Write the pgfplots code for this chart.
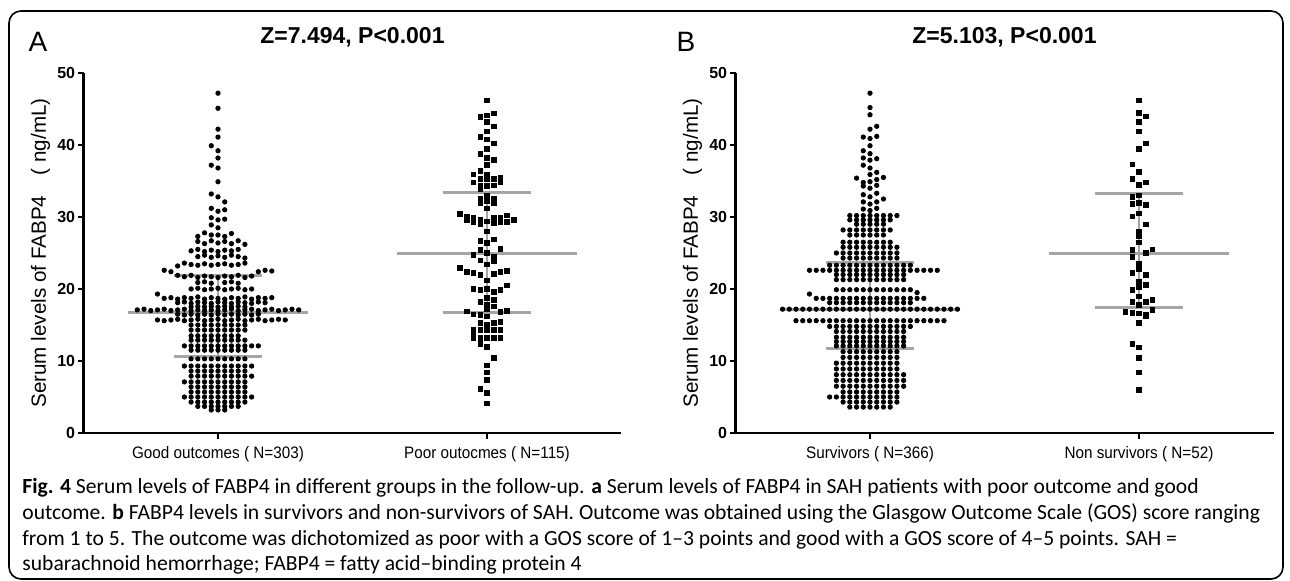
\documentclass[border=0pt]{standalone}
\usepackage{pgfplots}
\pgfplotsset{compat=1.18}
\usepackage{fontspec}
\setmainfont{Liberation Sans}
\newfontfamily\cf[FakeStretch=0.92]{Liberation Sans}
\newfontfamily\capf{Carlito}
\definecolor{iqr}{RGB}{165,165,165}
\pgfplotsset{
  dotax/.style={
    scale only axis, width=269pt, height=180pt,
    xmin=-20, xmax=60, ymin=0, ymax=50,
    axis x line=bottom, axis y line=left,
    axis line style={-, line width=1.1pt, black},
    xtick={0,40}, ytick={0,10,20,30,40,50},
    tick align=outside, major tick length=3pt,
    tick style={line width=1pt, black},
    /pgf/number format/assume math mode=true,
    yticklabel style={font=\bfseries\fontsize{8}{9}\selectfont, inner sep=1pt},
    xticklabel style={font=\cf\fontsize{8.3}{9}\selectfont},
    every axis y label/.style={at={(axis description cs:-0.08,0.5)}, rotate=90, anchor=center,
      font=\fontsize{10.3}{12}\selectfont},
    ylabel={Serum levels of FABP4\quad( ng/mL)},
    clip=false,
  },
  circ/.style={only marks, mark=*, mark size=1.1pt, black},
  sq/.style={only marks, mark=square*, mark size=1.15pt, black},
  med/.style={iqr, line width=1.5pt},
}
\begin{document}
\begin{tikzpicture}[x=0.5pt,y=0.5pt]
\useasboundingbox (0,0) rectangle (1290,580);
\draw[line width=0.8pt, rounded corners=6pt] (9,1) rectangle (1283,569);
% panel letters and titles
\node[font=\fontsize{14}{16}\selectfont] at (38,538) {A};
\node[font=\fontsize{14}{16}\selectfont] at (686,538) {B};
\node[font=\bfseries\fontsize{11.5}{13}\selectfont] at (352.5,543) {Z=7.494, P<0.001};
\node[font=\bfseries\fontsize{11.5}{13}\selectfont] at (1004.5,543) {Z=5.103, P<0.001};
% caption
\begin{scope}[every node/.style={anchor=base west, inner sep=0pt, font=\capf\fontsize{10.8}{12}\selectfont}]
\node at (22,87) {\textbf{Fig. 4} Serum levels of FABP4 in different groups in the follow-up. \textbf{a} Serum levels of FABP4 in SAH patients with poor outcome and good};
\node at (22,61) {outcome. \textbf{b} FABP4 levels in survivors and non-survivors of SAH. Outcome was obtained using the Glasgow Outcome Scale (GOS) score ranging};
\node at (22,35) {from 1 to 5. The outcome was dichotomized as poor with a GOS score of 1–3 points and good with a GOS score of 4–5 points. SAH =};
\node at (22,10) {subarachnoid hemorrhage; FABP4 = fatty acid–binding protein 4};
\end{scope}

\begin{axis}[dotax, at={(41.75pt,73.5pt)}, anchor=south west,
  xticklabels={Good outcomes ( N=303), Poor outocmes ( N=115)}]
% Good outcomes
\addplot[circ] coordinates {
(0,47.2)(0,45.1)(0,42.2)(0,41.1)(-1,39.9)(0,39.2)(0,38.2)(-1,37.2)(0,36.8)(0,34.9)
(-1,33.2)(0,32.8)(1,32.1)(-1,31.2)(0,30.8)(1,31.0)(-1,29.9)(0,29.6)(1,29.7)(-1,28.9)(0,28.5)
(-3,27.3)(-2,27.8)(-1,27.5)(0,27.5)(1,27.3)(2,27.7)
(-3,26.6)(-2,26.3)(-1,26.7)(0,26.4)(1,26.6)(2,26.3)(3,26.7)(4,26.2)
(-4,25.3)(-3,25.5)(-2,25.2)(-1,25.4)(0,25.2)(1,25.4)(2,25.3)(3,25.5)
(-3,24.5)(-2,24.7)(-1,24.4)(0,24.6)(1,24.4)(2,24.7)(3,24.5)(4,24.3)
(-6,23.2)(-5,23.6)(-4,23.4)(-3,23.3)(-2,23.5)(-1,23.3)(0,23.4)(1,23.5)(2,23.3)(3,23.4)(4,23.6)
(-8,22.6)(-7,22.4)(6,22.4)(7,22.6)(8,22.5)
(-6,21.9)(-5,21.7)(-4,21.9)(-3,21.6)(-2,21.8)(-1,21.7)(0,21.6)(1,21.8)(2,21.7)(3,21.9)(4,21.6)(5,21.8)
(-3,20.9)(-2,21.0)(-1,20.8)(1,20.9)(2,21.0)(3,20.8)
(-4,20.0)(-3,20.1)(-2,19.9)(-1,20.0)(0,20.1)(1,19.9)(2,20.0)(3,20.1)(4,19.9)(5,20.0)
(-9,19.3)
(-8,18.7)(-7,18.8)(-6,18.6)(-5,18.8)(-4,18.7)(-3,18.9)(-2,18.6)(-1,18.8)(0,18.7)(1,18.6)(2,18.8)(3,18.7)(4,18.9)(5,18.6)(6,18.8)(7,18.7)(8,18.8)
(-6,18.1)(-5,18.2)(-4,18.0)(-3,18.2)(-2,18.1)(-1,18.0)(0,18.2)(1,18.1)(2,18.0)(3,18.2)(4,18.1)(5,18.0)(6,18.2)(7,18.1)
(-4,17.5)(-3,17.6)(-2,17.5)(-1,17.6)(0,17.5)(1,17.6)(2,17.5)(3,17.6)(4,17.5)
(-12,17.1)(-11,17.2)(-10,17.0)(-9,17.1)(-8,17.2)(-7,17.0)(-6,17.1)(-5,17.2)(-4,17.0)(-3,17.1)(-2,17.0)(-1,17.1)(0,17.0)(1,17.1)(2,17.2)(3,17.0)(4,17.1)(5,17.2)(6,17.0)(7,17.1)(8,17.2)(9,17.0)(10,17.1)(11,17.2)(12,17.1)
(-6,16.5)(-5,16.4)(-4,16.5)(-3,16.4)(-2,16.5)(-1,16.4)(0,16.5)(1,16.4)(2,16.5)(3,16.4)(4,16.5)(5,16.4)(6,16.5)
(-9,15.7)(-8,15.6)(-7,15.7)(-6,15.8)(-5,15.6)(-4,15.7)(-3,15.8)(-2,15.6)(-1,15.7)(0,15.8)(1,15.6)(2,15.7)(3,15.8)(4,15.6)(5,15.7)(6,15.8)(7,15.6)(8,15.7)(9,15.8)(10,15.7)
(-4,15.0)(-3,15.0)(-2,15.0)(-1,15.0)(0,15.0)(1,15.0)(2,15.0)(3,15.0)(4,15.0)
(-4,14.3)(-3,14.3)(-2,14.3)(-1,14.3)(0,14.3)(1,14.3)(2,14.3)(3,14.3)(4,14.3)
(-4,13.5)(-3,13.5)(-2,13.5)(-1,13.5)(0,13.5)(1,13.5)(2,13.5)(3,13.5)
(-4,12.9)(-3,12.9)(-2,12.9)(-1,12.9)(0,12.9)(1,12.9)(2,12.9)(3,12.9)(4,12.9)
(-5,12.1)(-4,12.1)(-3,12.1)(-2,12.1)(-1,12.1)(0,12.1)(1,12.1)(2,12.1)(3,12.1)(4,12.1)(5,12.1)(6,12.1)
(-4,11.5)(-3,11.5)(-2,11.5)(-1,11.5)(0,11.5)(1,11.5)(2,11.5)(3,11.5)(4,11.5)
(-4,10.3)(-3,10.3)(-2,10.3)(-1,10.3)(0,10.3)(1,10.3)(2,10.3)(3,10.3)(4,10.3)
(-5,9.3)(-4,9.3)(-3,9.3)(-2,9.3)(-1,9.3)(0,9.3)(1,9.3)(2,9.3)(3,9.3)(4,9.3)(5,9.3)
(-4,8.6)(-3,8.6)(-2,8.6)(-1,8.6)(0,8.6)(1,8.6)(2,8.6)(3,8.6)(4,8.6)
(-4,7.9)(-3,7.9)(-2,7.9)(-1,7.9)(0,7.9)(1,7.9)(2,7.9)(3,7.9)(4,7.9)(5,7.9)
(-5,7.1)(-4,7.1)(-3,7.1)(-2,7.1)(-1,7.1)(0,7.1)(1,7.1)(2,7.1)(3,7.1)(4,7.1)
(-4,6.4)(-3,6.4)(-2,6.4)(-1,6.4)(0,6.4)(1,6.4)(2,6.4)(3,6.4)(4,6.4)
(-4,5.7)(-3,5.7)(-2,5.7)(-1,5.7)(0,5.7)(1,5.7)(2,5.7)(3,5.7)(4,5.7)
(-5,5.0)(-4,5.0)(-3,5.0)(-2,5.0)(-1,5.0)(0,5.0)(1,5.0)(2,5.0)(3,5.0)(4,5.0)(5,5.0)
(-4,4.3)(-3,4.3)(-2,4.3)(-1,4.3)(0,4.3)(1,4.3)(2,4.3)(3,4.3)(4,4.3)
(-3,3.7)(-2,3.7)(-1,3.7)(0,3.7)(1,3.7)(2,3.7)(3,3.7)
(-1,3.2)(0,3.2)(1,3.2)
};
% Poor outcomes
\addplot[sq] coordinates {
(40,46.2)(39,43.9)(40,44.1)(41,44.4)(40,43.2)(41,42.6)(40,41.9)(39,41.1)(40,40.8)(41,40.2)(40,39.5)(39,38.8)(40,38.2)(41,37.9)(40,37.2)(39,36.4)(38,35.9)(40,35.9)
(39,35.3)(40,35.3)(41,35.3)(42,35.4)(42,34.9)(38,34.8)(39,34.3)(40,34.3)(41,34.4)(39,33.9)
(39,32.5)(39,32.0)(41,32.5)(41,32.0)
(36,30.4)(37,30.1)(37,29.6)(38,29.9)(38,29.3)(39,29.6)(39,29.0)(40,29.4)(41,29.9)(41,29.1)(42,29.9)(42,29.3)(43,30.2)(43,29.3)(44,29.6)
(39,26.7)(41,26.9)(39,25.4)(38,24.7)(42,25.6)(39,24.0)(41,24.5)(41,23.9)
(36,22.9)(37,22.4)(38,22.2)(39,22.0)(41,22.1)(42,22.4)(43,22.5)
(38,20.0)(39,19.9)(41,19.6)(42,19.9)(43,20.5)
(39,18.2)(41,18.5)(41,17.6)
(37,16.9)(38,16.5)(39,16.4)(40,16.2)(42,16.8)(43,17.0)
(39,15.3)(40,15.1)(41,15.3)(42,15.4)
(38,14.3)(38,13.8)(39,14.3)(40,14.3)(41,14.3)(42,14.3)
(38,13.2)(39,13.2)(40,13.2)(41,13.2)(42,13.2)
(39,12.4)(40,12.0)
(41,10.4)(40,9.4)(40,8.4)(40,7.4)(39,6.1)(40,5.6)(40,4.1)
(40,33.0)(40,32.2)(40,31.2)(40,28.0)(40,26.4)(40,25.0)(40,23.4)(40,21.2)(40,20.0)(40,18.8)(40,17.8)(40,17.2)(40,14.8)
};
% medians and IQR
\addplot[med] coordinates {(-13.4,16.8)(13.4,16.8)};
\addplot[med] coordinates {(-6.6,21.9)(6.6,21.9)};
\addplot[med] coordinates {(-6.6,10.6)(6.6,10.6)};
\addplot[iqr, line width=1.2pt] coordinates {(0,10.6)(0,21.9)};
\addplot[med] coordinates {(26.6,25.0)(53.4,25.0)};
\addplot[med] coordinates {(33.4,33.4)(46.6,33.4)};
\addplot[med] coordinates {(33.4,16.8)(46.6,16.8)};
\addplot[iqr, line width=1.2pt] coordinates {(40,16.8)(40,33.4)};
\end{axis}

\begin{axis}[dotax, at={(367.75pt,73.5pt)}, anchor=south west,
  xticklabels={Survivors ( N=366), Non survivors ( N=52)}]
% Survivors
\addplot[circ] coordinates {
(0,47.2)(0,45.2)(0,44.2)(0,42.2)(1,42.6)(-1,41.1)(0,40.9)(1,41.2)(0,39.9)(-1,39.2)(0,38.8)(-1,38.2)(0,37.9)(1,38.1)(-1,37.2)(0,36.8)(0,35.9)(1,36.2)
(-2,35.4)(-1,34.8)(0,34.9)(1,35.2)(2,35.5)(-1,34.3)(0,34.0)(1,34.4)(-1,33.1)(0,32.8)(1,33.3)(2,32.5)(-1,32.1)(0,31.8)(1,32.1)(-1,31.1)(0,30.9)(1,31.2)
(-3,30.2)(-2,30.2)(-1,30.2)(0,30.2)(1,30.2)(2,30.2)(3,30.2)(4,30.2)
(-3,29.6)(-2,29.6)(-1,29.6)(0,29.6)(1,29.6)(2,29.6)(3,29.6)
(-2,29.0)(-1,29.0)(0,29.0)(1,29.0)(2,29.0)
(-4,28.2)(-3,28.2)(-2,28.2)(-1,28.2)(0,28.2)(1,28.2)(2,28.2)(3,28.2)
(-3,27.5)(-2,27.5)(-1,27.5)(0,27.5)(1,27.5)(2,27.5)
(-4,26.5)(-3,26.5)(-2,26.5)(-1,26.5)(0,26.5)(1,26.5)(2,26.5)(3,26.5)
(-4,25.8)(-3,25.8)(-2,25.8)(-1,25.8)(0,25.8)(1,25.8)(2,25.8)(3,25.8)(4,25.8)
(-5,25.0)(-4,25.0)(-3,25.0)(-2,25.0)(-1,25.0)(0,25.0)(1,25.0)(2,25.0)(3,25.0)(4,25.0)
(-4,24.3)(-3,24.3)(-2,24.3)(-1,24.3)(0,24.3)(1,24.3)(2,24.3)(3,24.3)(4,24.3)
(-6,23.3)(-5,23.3)(-4,23.3)(-3,23.3)(-2,23.3)(-1,23.3)(0,23.3)(1,23.3)(2,23.3)(3,23.3)(4,23.3)(5,23.3)(6,23.3)
(-9,22.6)(-8,22.6)(-7,22.6)(-6,22.6)(-5,22.6)(-4,22.6)(-3,22.6)(-2,22.6)(-1,22.6)(0,22.6)(1,22.6)(2,22.6)(3,22.6)(4,22.6)(5,22.6)(6,22.6)(7,22.6)(8,22.6)(9,22.6)(10,22.6)
(-5,22.0)(-4,22.0)(-3,22.0)(-2,22.0)(-1,22.0)(0,22.0)(1,22.0)(2,22.0)(3,22.0)(4,22.0)(5,22.0)
(-5,21.3)(-4,21.3)(-3,21.3)(-2,21.3)(-1,21.3)(0,21.3)(1,21.3)(2,21.3)(3,21.3)(4,21.3)(5,21.3)
(-5,19.9)(-4,19.9)(-3,19.9)(-2,19.9)(-1,19.9)(0,19.9)(1,19.9)(2,19.9)(3,19.9)(4,19.9)(5,19.9)(6,19.9)
(-9,19.3)(7,19.5)
(-8,18.7)(-7,18.7)(-6,18.7)(-5,18.7)(-4,18.7)(-3,18.7)(-2,18.7)(-1,18.7)(0,18.7)(1,18.7)(2,18.7)(3,18.7)(4,18.7)(5,18.7)(6,18.7)(7,18.7)(8,18.7)
(-6,18.1)(-5,18.1)(-4,18.1)(-3,18.1)(-2,18.1)(-1,18.1)(0,18.1)(1,18.1)(2,18.1)(3,18.1)(4,18.1)(5,18.1)(6,18.1)
(-13,17.2)(-12,17.2)(-11,17.2)(-10,17.2)(-9,17.2)(-8,17.2)(-7,17.2)(-6,17.2)(-5,17.2)(-4,17.2)(-3,17.2)(-2,17.2)(-1,17.2)(0,17.2)(1,17.2)(2,17.2)(3,17.2)(4,17.2)(5,17.2)(6,17.2)(7,17.2)(8,17.2)(9,17.2)(10,17.2)(11,17.2)(12,17.2)(13,17.2)
(-11,15.6)(-10,15.6)(-9,15.6)(-8,15.6)(-7,15.6)(-6,15.6)(-5,15.6)(-4,15.6)(-3,15.6)(-2,15.6)(-1,15.6)(0,15.6)(1,15.6)(2,15.6)(3,15.6)(4,15.6)(5,15.6)(6,15.6)(7,15.6)(8,15.6)(9,15.6)(10,15.6)(11,15.6)
(-6,14.8)(-5,14.8)(-4,14.8)(-3,14.8)(-2,14.8)(-1,14.8)(0,14.8)(1,14.8)(2,14.8)(3,14.8)(4,14.8)(5,14.8)(6,14.8)
(-5,14.1)(-4,14.1)(-3,14.1)(-2,14.1)(-1,14.1)(0,14.1)(1,14.1)(2,14.1)(3,14.1)(4,14.1)(5,14.1)
(-5,13.3)(-4,13.3)(-3,13.3)(-2,13.3)(-1,13.3)(0,13.3)(1,13.3)(2,13.3)(3,13.3)(4,13.3)(5,13.3)
(-5,12.7)(-4,12.7)(-3,12.7)(-2,12.7)(-1,12.7)(0,12.7)(1,12.7)(2,12.7)(3,12.7)(4,12.7)(5,12.7)
(-5,12.1)(-4,12.1)(-3,12.1)(-2,12.1)(-1,12.1)(0,12.1)(1,12.1)(2,12.1)(3,12.1)(4,12.1)(5,12.1)
(-4,11.3)(-3,11.3)(-2,11.3)(-1,11.3)(0,11.3)(1,11.3)(2,11.3)(3,11.3)(4,11.3)
(-4,10.5)(-3,10.5)(-2,10.5)(-1,10.5)(0,10.5)(1,10.5)(2,10.5)(3,10.5)(4,10.5)
(-5,9.7)(-4,9.7)(-3,9.7)(-2,9.7)(-1,9.7)(0,9.7)(1,9.7)(2,9.7)(3,9.7)(4,9.7)
(-5,8.9)(-4,8.9)(-3,8.9)(-2,8.9)(-1,8.9)(0,8.9)(1,8.9)(2,8.9)(3,8.9)(4,8.9)
(-5,8.1)(-4,8.1)(-3,8.1)(-2,8.1)(-1,8.1)(0,8.1)(1,8.1)(2,8.1)(3,8.1)(4,8.1)(5,8.1)
(-5,7.3)(-4,7.3)(-3,7.3)(-2,7.3)(-1,7.3)(0,7.3)(1,7.3)(2,7.3)(3,7.3)(4,7.3)(5,7.3)
(-5,6.5)(-4,6.5)(-3,6.5)(-2,6.5)(-1,6.5)(0,6.5)(1,6.5)(2,6.5)(3,6.5)(4,6.5)(5,6.5)
(-4,5.7)(-3,5.7)(-2,5.7)(-1,5.7)(0,5.7)(1,5.7)(2,5.7)(3,5.7)(4,5.7)
(-6,5.0)(-5,5.0)(-4,5.0)(-3,5.0)(-2,5.0)(-1,5.0)(0,5.0)(1,5.0)(2,5.0)(3,5.0)(4,5.0)
(-4,4.3)(-3,4.3)(-2,4.3)(-1,4.3)(0,4.3)(1,4.3)(2,4.3)(3,4.3)(4,4.3)
(-3,3.6)(-2,3.6)(-1,3.6)(0,3.6)(1,3.6)(2,3.6)(3,3.6)
};
% Non survivors
\addplot[sq] coordinates {
(40,46.2)(40,44.5)(41,44.0)(40,43.2)(40,41.9)(41,40.2)(40,39.5)(39,37.3)(40,36.3)(39,35.3)(40,34.5)(41,34.8)
(39,32.8)(39,31.8)(41,31.7)(39,30.1)(41,29.0)
(39,25.4)(39,24.5)(41,25.0)(42,25.5)
(39,22.2)(41,22.0)(39,19.9)(41,20.6)(39,18.2)(41,18.2)(42,18.5)
(38,16.8)(39,16.7)(40,16.6)(41,16.5)(41,16.2)(42,17.1)
(40,15.3)(39,12.4)(40,11.9)(40,10.4)(40,8.4)(40,6.0)
(40,32.0)(40,30.5)(40,28.0)(40,26.5)(40,23.5)(40,21.0)(40,19.0)(40,17.8)(40,33.0)(40,27.3)(40,22.8)(40,20.3)
};
\addplot[med] coordinates {(-13.4,17.2)(13.4,17.2)};
\addplot[med] coordinates {(-6.6,23.7)(6.6,23.7)};
\addplot[med] coordinates {(-6.6,11.8)(6.6,11.8)};
\addplot[iqr, line width=1.2pt] coordinates {(0,11.8)(0,23.7)};
\addplot[med] coordinates {(26.6,25.0)(53.4,25.0)};
\addplot[med] coordinates {(33.4,33.3)(46.6,33.3)};
\addplot[med] coordinates {(33.4,17.5)(46.6,17.5)};
\addplot[iqr, line width=1.2pt] coordinates {(40,17.5)(40,33.3)};
\end{axis}
\end{tikzpicture}
\end{document}
